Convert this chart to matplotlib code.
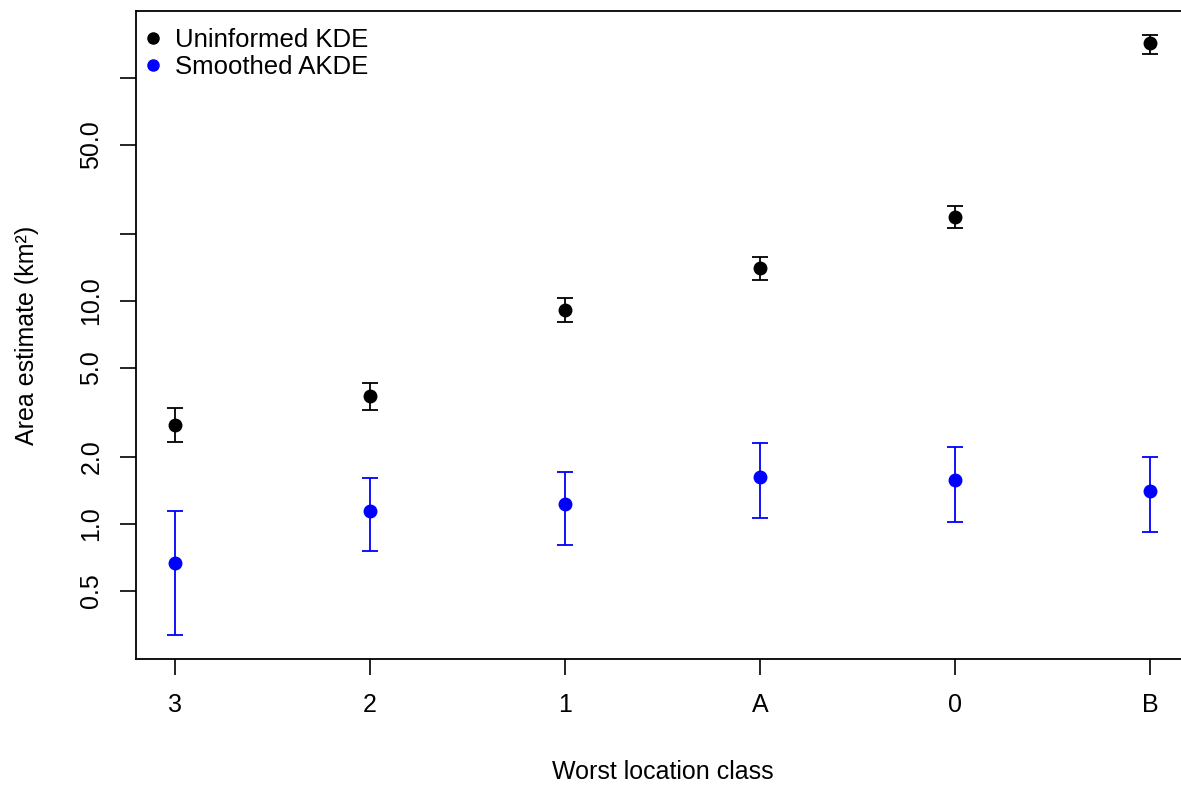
import matplotlib
matplotlib.use("Agg")
import matplotlib.pyplot as plt
from matplotlib.lines import Line2D

plt.rcParams['font.family'] = ['Liberation Sans', 'DejaVu Sans']

classes = ["3", "2", "1", "A", "0", "B"]

kde_est = [2.78, 3.75, 9.12, 14.06, 23.8, 143.6]
kde_low = [2.33, 3.24, 8.05, 12.4, 21.2, 128.0]
kde_high = [3.31, 4.29, 10.3, 15.7, 26.7, 156.0]

akde_est = [0.668, 1.14, 1.23, 1.62, 1.57, 1.41]
akde_low = [0.318, 0.757, 0.805, 1.06, 1.02, 0.92]
akde_high = [1.14, 1.61, 1.71, 2.31, 2.21, 2.00]

yticks = [0.5, 1, 2, 5, 10, 20, 50, 100]
ytick_labels = ["0.5", "1.0", "2.0", "5.0", "10.0", "", "50.0", ""]

x = list(range(1, len(classes) + 1))

fig = plt.figure(figsize=(11.81, 7.87), dpi=100)
ax = fig.add_axes([136 / 1181, 128 / 787, 1053 / 1181, 648 / 787])

def draw(est, low, high, color):
    err = [[e - l for e, l in zip(est, low)], [h - e for e, h in zip(est, high)]]
    ax.errorbar(x, est, yerr=err, fmt='o', color=color, ms=9, elinewidth=1.3,
                capsize=6, capthick=1.3)

draw(kde_est, kde_low, kde_high, 'black')
draw(akde_est, akde_low, akde_high, '#0000ff')

ax.set_yscale('log')
ax.set_ylim(0.248, 199.7)
ax.set_xlim(0.8, 6.2)
ax.set_yticks(yticks)
ax.set_yticklabels(ytick_labels, rotation=90, va='center')
ax.yaxis.set_minor_locator(matplotlib.ticker.NullLocator())
ax.set_xticks(x)
ax.set_xticklabels(classes)
ax.tick_params(axis='both', length=11.5, width=1.2, labelsize=18)
ax.tick_params(axis='x', pad=13)
ax.tick_params(axis='y', pad=12)
for s in ax.spines.values():
    s.set_linewidth(1.3)

ax.set_xlabel("Worst location class", fontsize=18, labelpad=31)
ax.set_ylabel("Area estimate (km²)", fontsize=18, labelpad=29)

handles = [Line2D([], [], ls='none', marker='o', ms=8, color='black'),
           Line2D([], [], ls='none', marker='o', ms=8, color='#0000ff')]
ax.legend(handles, ["Uninformed KDE", "Smoothed AKDE"], loc='upper left',
          bbox_to_anchor=(-0.011, 1.005), frameon=False, fontsize=18.5,
          handlelength=0.6, handletextpad=0.55, labelspacing=0.12, borderpad=0.3)

fig.savefig("out.png", dpi=100)
